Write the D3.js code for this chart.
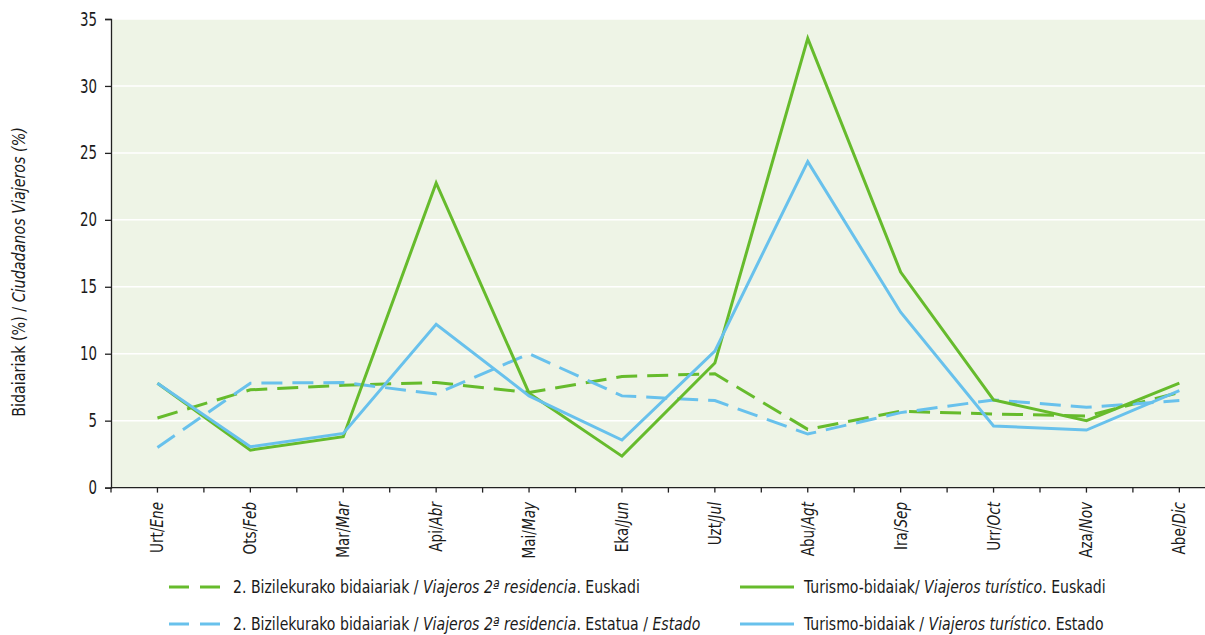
<!DOCTYPE html>
<html><head><meta charset="utf-8">
<script src="https://cdn.jsdelivr.net/npm/d3@7"></script>
<style>
body{margin:0;background:#fff;}
svg text{font-family:"Liberation Sans Narrow","DejaVu Sans Condensed","Roboto Condensed",sans-serif;fill:#1a1a1a;}
</style></head>
<body><svg id="c" width="1205" height="635"></svg>
<script>
const monthsEu = ["Urt","Ots","Mar","Api","Mai","Eka","Uzt","Abu","Ira","Urr","Aza","Abe"];
const monthsEs = ["Ene","Feb","Mar","Abr","May","Jun","Jul","Agt","Sep","Oct","Nov","Dic"];
const yTicks = [0,5,10,15,20,25,30,35];
const resEuskadi = [5.2, 7.3, 7.65, 7.85, 7.1, 8.3, 8.5, 4.35, 5.7, 5.5, 5.35, 7.1];
const resEstado  = [3.0, 7.8, 7.85, 7.0, 10.0, 6.85, 6.5, 4.0, 5.6, 6.55, 6.0, 6.5];
const turEuskadi = [7.8, 2.8, 3.8, 22.75, 7.05, 2.35, 9.3, 33.55, 16.1, 6.55, 5.0, 7.8];
const turEstado  = [7.8, 3.05, 4.05, 12.2, 6.85, 3.55, 10.2, 24.35, 13.1, 4.6, 4.3, 7.25];

const GREEN = "#66bb2c", BLUE = "#68c1ec";
const svg = d3.select("#c");
const L = 111, T = 19, B = 487.6, step = 92.9;
const x = d3.scaleBand().domain(d3.range(12)).range([L, L + 12*step]).padding(0);
const cx = i => x(i) + x.bandwidth()/2;
const y = d3.scaleLinear().domain([0,35]).range([B, T]);

svg.append("rect").attr("x", L).attr("y", T).attr("width", 1205 - L).attr("height", B - T).attr("fill", "#eef4e6");
svg.append("g").selectAll("line").data(yTicks.filter(d => d > 0)).join("line")
  .attr("x1", L).attr("x2", 1205).attr("y1", d => y(d)).attr("y2", d => y(d))
  .attr("stroke", "#fff").attr("stroke-width", 1.5);

// y axis
const yAx = svg.append("g").attr("transform", `translate(${L},0)`)
  .call(d3.axisLeft(y).tickValues(yTicks).tickSize(6).tickPadding(0));
yAx.select(".domain").attr("stroke", "#222").attr("stroke-width", 1.3);
yAx.selectAll(".tick line").attr("stroke", "#222").attr("stroke-width", 1.3);
yAx.selectAll("text").attr("font-size", 19).attr("font-family", null).attr("fill", "#1a1a1a").attr("x", 0);
// condense y tick labels: "35" should be ~17px wide, right edge at x=97
{
  const ref = yAx.selectAll("text").filter(d => d === 35).node().getComputedTextLength();
  const s = 17 / ref;
  yAx.selectAll("text").attr("transform", `translate(-14,0) scale(${s},1)`);
}

// x axis
svg.append("line").attr("x1", L).attr("x2", 1205).attr("y1", B).attr("y2", B).attr("stroke", "#222").attr("stroke-width", 1.3);
const tickPos = [];
for (let i = 0; i < 12; i++) { tickPos.push(x(i)); tickPos.push(cx(i)); }
svg.append("g").selectAll("line").data(tickPos).join("line")
  .attr("x1", d => d).attr("x2", d => d).attr("y1", B).attr("y2", B + 5)
  .attr("stroke", "#222").attr("stroke-width", 1.3);
const xl = svg.append("g").selectAll("text").data(d3.range(12)).join("text")
  .attr("text-anchor", "end").attr("dy", "0.35em").attr("font-size", 17);
xl.append("tspan").text(i => monthsEu[i] + "/");
xl.append("tspan").attr("font-style", "italic").text(i => monthsEs[i]);
{
  const s = 51 / xl.filter(i => i === 0).node().getComputedTextLength();
  xl.attr("transform", i => `translate(${cx(i)},502) rotate(-90) scale(${s},1)`);
}

// y title
const yt = svg.append("text").attr("text-anchor", "middle").attr("dy", "0.35em").attr("font-size", 17);
yt.append("tspan").text("Bidaiariak (%) / ");
yt.append("tspan").attr("font-style", "italic").text("Ciudadanos Viajeros (%)");
{
  const s = 290 / yt.node().getComputedTextLength();
  yt.attr("transform", `translate(19,272) rotate(-90) scale(${s},1)`);
}

// lines
const line = d3.line().x((d, i) => cx(i)).y(d => y(d));
const series = [
  {v: resEuskadi, c: GREEN, dash: "21,10"},
  {v: resEstado, c: BLUE, dash: "21,10"},
  {v: turEuskadi, c: GREEN, dash: null},
  {v: turEstado, c: BLUE, dash: null}
];
svg.append("g").selectAll("path").data(series).join("path")
  .attr("d", s => line(s.v)).attr("fill", "none").attr("stroke", s => s.c)
  .attr("stroke-width", 3).attr("stroke-dasharray", s => s.dash).attr("stroke-linejoin", "miter");

// legend
const legend = [
  {x: 169, y: 587, c: GREEN, dash: true, parts: [["2. Bizilekurako bidaiariak / ", 0], ["Viajeros 2ª residencia", 1], [". Euskadi", 0]], w: 407},
  {x: 740, y: 587, c: GREEN, dash: false, parts: [["Turismo-bidaiak/ ", 0], ["Viajeros turístico", 1], [". Euskadi", 0]], w: 305},
  {x: 169, y: 624, c: BLUE, dash: true, parts: [["2. Bizilekurako bidaiariak / ", 0], ["Viajeros 2ª residencia", 1], [". Estatua / ", 0], ["Estado", 1]], w: 450},
  {x: 740, y: 624, c: BLUE, dash: false, parts: [["Turismo-bidaiak / ", 0], ["Viajeros turístico", 1], [". Estado", 0]], w: 301}
];
const lg = svg.append("g").selectAll("g").data(legend).join("g");
lg.append("line").attr("x1", d => d.x).attr("x2", d => d.x + 54).attr("y1", d => d.y).attr("y2", d => d.y)
  .attr("stroke", d => d.c).attr("stroke-width", 3).attr("stroke-dasharray", d => d.dash ? "20,11" : null);
const lt = [];
lg.each(function(d) {
  const t = d3.select(this).append("text").attr("dy", "0.35em").attr("font-size", 17);
  d.parts.forEach(p => t.append("tspan").attr("font-style", p[1] ? "italic" : null).text(p[0]));
  lt.push(t);
});
{
  const s = legend[0].w / lt[0].node().getComputedTextLength();
  lt.forEach((t, k) => t.attr("transform", `translate(${legend[k].x + 64},${legend[k].y}) scale(${s},1)`));
}
</script></body></html>
